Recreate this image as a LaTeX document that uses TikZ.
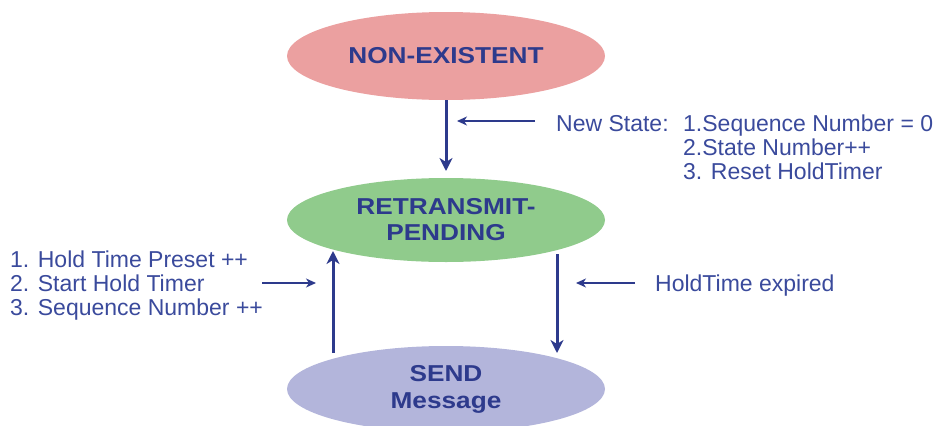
\documentclass[tikz,border=0pt]{standalone}
\usepackage{fontspec}
\usepackage{graphicx}
\setmainfont{Liberation Sans}
\usetikzlibrary{arrows.meta,shapes.geometric}
\definecolor{navy}{HTML}{2D3A8C}
\definecolor{txtblue}{HTML}{3A4A9C}
\definecolor{pinkfill}{HTML}{EBA0A0}
\definecolor{greenfill}{HTML}{90CB8C}
\definecolor{lavfill}{HTML}{B3B5DB}
\newcommand\widebold[1]{\scalebox{1.14}[1]{#1}}
\tikzset{
  state/.style={ellipse, minimum width=318pt, minimum height=88pt, inner sep=0pt,
    font=\fontsize{23}{24}\selectfont\bfseries, text=navy, align=center},
  bigarrow/.style={draw=navy, line width=3pt, -{Stealth[length=13pt,width=13pt,inset=4pt]}},
  smallarrow/.style={draw=navy, line width=1.3pt, -{Stealth[length=10pt,width=9pt,inset=3pt]}},
  note/.style={font=\fontsize{23}{24}\selectfont, text=txtblue, inner sep=0pt, anchor=base west}
}
\begin{document}
\begin{tikzpicture}[x=1pt,y=-1pt]
\useasboundingbox (0,0) rectangle (938,426);
\node[state, fill=pinkfill] (ne) at (446,56) {\widebold{NON-EXISTENT}};
\node[state, fill=greenfill, minimum height=84pt] (rp) at (446,220) {\widebold{RETRANSMIT-}\\[2pt]\widebold{PENDING}};
\node[state, fill=lavfill, minimum height=86pt] (snd) at (446,389) {\widebold{SEND}\\[3pt]\widebold{Message}};

\coordinate (a1s) at (446,100);
\coordinate (a1e) at (446,171);
\draw[bigarrow] (a1s) -- (a1e);

\coordinate (upS) at (333,353);
\coordinate (upE) at (333,251);
\draw[bigarrow] (upS) -- (upE);

\coordinate (dnS) at (557,254);
\coordinate (dnE) at (557,353);
\draw[bigarrow] (dnS) -- (dnE);

\node[note] (ns) at (556,131) {New State:};
\node[note] (ns1) at (683,131) {1.Sequence Number = 0};
\node[note] (ns2) at (683,155) {2.State Number++};
\node[note] (ns3) at (683,179) {3. Reset HoldTimer};
\coordinate (p0) at (535,121);
\coordinate (p1) at (457,121);
\draw[smallarrow] (p0) -- (p1);

\node[note] (lt1) at (10,267) {1. Hold Time Preset ++};
\node[note] (lt2) at (10,291) {2. Start Hold Timer};
\node[note] (lt3) at (10,315) {3. Sequence Number ++};
\coordinate (q0) at (262,283);
\coordinate (q1) at (316,283);
\draw[smallarrow] (q0) -- (q1);

\node[note] (he) at (655,291) {HoldTime expired};
\coordinate (r0) at (635,283);
\coordinate (r1) at (576,283);
\draw[smallarrow] (r0) -- (r1);
\end{tikzpicture}
\end{document}
